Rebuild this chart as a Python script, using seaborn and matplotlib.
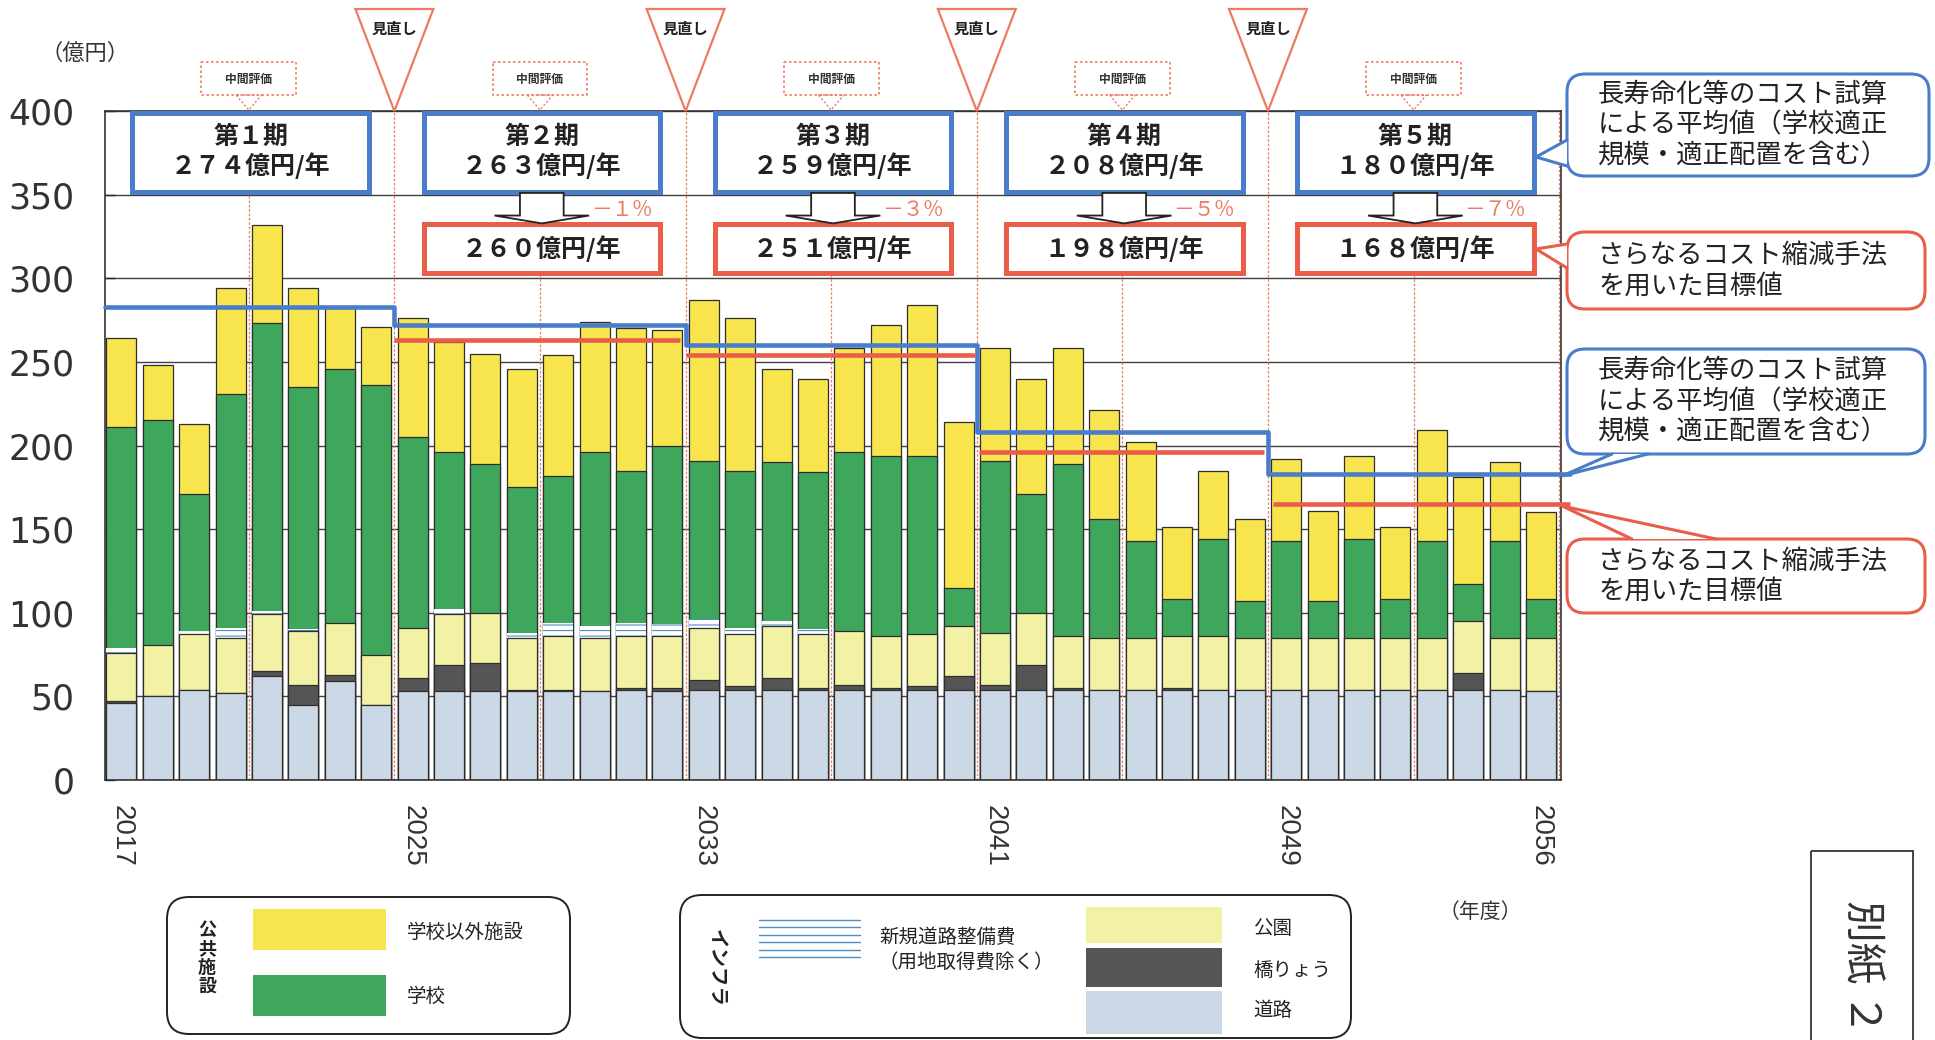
import numpy as np
import pandas as pd
import matplotlib.pyplot as plt
import seaborn as sns
from matplotlib import transforms
from matplotlib.patches import Rectangle, Polygon, FancyBboxPatch
from matplotlib.lines import Line2D

# --- Data: yearly cost by category (億円) ---
years = list(range(2017, 2057))
road = [46, 50, 54, 52, 62, 45, 59, 45, 53, 53, 53, 53, 53, 53, 54, 53, 54, 54, 54, 54,
        54, 54, 54, 54, 54, 54, 54, 54, 54, 54, 54, 54, 54, 54, 54, 54, 54, 54, 54, 53]
bridge = [1, 0, 0, 0, 3, 12, 4, 0, 8, 16, 17, 1, 1, 0, 1, 2, 6, 2, 7, 1,
          3, 1, 2, 8, 3, 15, 1, 0, 0, 1, 0, 0, 0, 0, 0, 0, 0, 10, 0, 0]
park = [29, 31, 33, 33, 34, 32, 31, 30, 30, 30, 30, 31, 32, 32, 31, 31, 31, 31, 31, 32,
        32, 31, 31, 30, 31, 31, 31, 31, 31, 31, 32, 31, 31, 31, 31, 31, 31, 31, 31, 32]
new_road = [3, 0, 2, 6, 2, 1, 0, 0, 0, 3, 0, 3, 8, 7, 8, 7, 5, 4, 3, 3,
            0, 0, 0, 0, 0, 0, 0, 0, 0, 0, 0, 0, 0, 0, 0, 0, 0, 0, 0, 0]
school = [132, 134, 82, 140, 172, 145, 152, 161, 114, 94, 89, 87, 88, 104, 91, 107, 95, 94, 95, 94,
          107, 108, 107, 23, 103, 71, 103, 71, 58, 22, 58, 22, 58, 22, 59, 23, 58, 22, 58, 23]
other = [53, 33, 42, 63, 59, 59, 36, 35, 71, 66, 66, 71, 72, 78, 85, 69, 96, 91, 56, 56,
         62, 78, 90, 99, 67, 69, 69, 65, 59, 43, 41, 49, 49, 54, 50, 43, 66, 64, 47, 52]

# period averages (blue) and reduced targets (red), as drawn
period_avg = [283, 272, 260, 208, 183]
period_target = [263, 254, 196, 165]
period_names = ['第１期', '第２期', '第３期', '第４期', '第５期']
avg_labels = ['２７４億円/年', '２６３億円/年', '２５９億円/年', '２０８億円/年', '１８０億円/年']
target_labels = ['２６０億円/年', '２５１億円/年', '１９８億円/年', '１６８億円/年']
cut_labels = ['－１%', '－３%', '－５%', '－７%']
tick_years = ['2017', '2025', '2033', '2041', '2049', '2056']
y_ticks = [0, 50, 100, 150, 200, 250, 300, 350, 400]

df = pd.DataFrame({'year': [str(y) for y in years], 'road': road, 'bridge': bridge,
                   'park': park, 'new_road': new_road, 'school': school, 'other': other})
layers = ['road', 'bridge', 'park', 'new_road', 'school', 'other']
cum = df[layers].cumsum(axis=1)
cum['year'] = df['year']

# colours
YELLOW = '#F8E44C'
GREEN = '#3FA75C'
PARK = '#F3F2A4'
BRIDGE = '#555555'
ROAD = '#CBD8E6'
STRIPE = '#4C8DCB'
BLUE = '#4A7DC9'
RED = '#E95D49'
SALMON = '#EC7B62'
EDGE = '#2E2E2E'

sns.set_theme(style='white')
plt.rcParams['font.family'] = ['Noto Sans CJK JP', 'DejaVu Sans']
plt.rcParams['axes.unicode_minus'] = False
plt.rcParams['hatch.color'] = STRIPE
plt.rcParams['hatch.linewidth'] = 0.8

W, H = 1935, 1040
fig = plt.figure(figsize=(W / 100, H / 100), dpi=100)
ax = fig.add_axes([105 / W, 1 - 780 / H, 1456 / W, 669 / H])

# --- stacked bars (drawn from the top of the stack downwards) ---
bar_kw = dict(width=0.82, saturation=1, errorbar=None, ax=ax, zorder=2)
sns.barplot(data=cum, x='year', y='other', color=YELLOW, edgecolor=EDGE, linewidth=0.9, **bar_kw)
sns.barplot(data=cum, x='year', y='school', color=GREEN, edgecolor=EDGE, linewidth=0.9, **bar_kw)
sns.barplot(data=cum, x='year', y='new_road', color='white', edgecolor=STRIPE, linewidth=0,
            hatch='---', **bar_kw)
sns.barplot(data=cum, x='year', y='park', color=PARK, edgecolor=EDGE, linewidth=0.9, **bar_kw)
sns.barplot(data=cum, x='year', y='bridge', color=BRIDGE, edgecolor=EDGE, linewidth=0.9, **bar_kw)
sns.barplot(data=cum, x='year', y='road', color=ROAD, edgecolor=EDGE, linewidth=0.9, **bar_kw)

# --- average / target step lines ---
edges = [-0.45, 7.5, 15.5, 23.5, 31.5, 39.8]
step = pd.DataFrame({'x': edges, 'y': period_avg + [period_avg[-1]]})
sns.lineplot(data=step, x='x', y='y', drawstyle='steps-post', color=BLUE, linewidth=3.3,
             estimator=None, ax=ax, zorder=6, clip_on=False)
red_spans = [(7.5, 15.35), (15.5, 23.45), (23.55, 31.4), (31.65, 39.8)]
for v, (x0, x1) in zip(period_target, red_spans):
    ax.hlines(v, x0, x1, color=RED, linewidth=3.3, zorder=6, clip_on=False)

# review / mid-term dotted guide lines
for xv in [3.5, 7.5, 11.5, 15.5, 19.5, 23.5, 27.5, 31.5, 35.5, 39.5]:
    ax.axvline(xv, color=SALMON, linewidth=0.9, linestyle=(0, (2, 1.5)), zorder=1.5)

# --- period boxes inside the plot ---
for k in range(5):
    x0 = 8 * k + 0.3
    c = 8 * k + 3.55
    ax.add_patch(Rectangle((x0, 351.5), 6.5, 47.5, facecolor='white', edgecolor=BLUE,
                           linewidth=3.6, zorder=7))
    ax.text(c, 375.5, f'{period_names[k]}\n{avg_labels[k]}', ha='center', va='center',
            fontsize=18, fontweight='bold', color='#222222', linespacing=1.12, zorder=8)
    if k == 0:
        continue
    ax.add_patch(Rectangle((x0, 303), 6.5, 29.5, facecolor='white', edgecolor=RED,
                           linewidth=3.6, zorder=7))
    ax.text(c, 317.5, target_labels[k - 1], ha='center', va='center', fontsize=18,
            fontweight='bold', color='#222222', zorder=8)
    arrow = [(c - 0.6, 351), (c + 0.6, 351), (c + 0.6, 337.5), (c + 1.3, 337.5),
             (c, 332.8), (c - 1.3, 337.5), (c - 0.6, 337.5)]
    ax.add_patch(Polygon(arrow, closed=True, facecolor='white', edgecolor='#222222',
                         linewidth=1.3, zorder=8))
    ax.text(c + 1.35, 341, cut_labels[k - 1], ha='left', va='center', fontsize=15,
            color=SALMON, zorder=8)

# --- axes styling ---
ax.set_xlim(-0.45, 39.55)
ax.set_ylim(0, 400)
ax.set_yticks(y_ticks)
ax.set_yticklabels([str(t) for t in y_ticks], family=['Liberation Sans Narrow', 'DejaVu Sans'],
                   fontsize=25, color='#333333')
ax.set_xticks([years.index(int(t)) for t in tick_years])
ax.set_xticklabels(tick_years, rotation=-90, family=['Liberation Sans', 'DejaVu Sans'],
                   fontsize=20, color='#333333', va='top')
ax.tick_params(axis='y', direction='in', length=7, width=1, pad=22, left=True)
ax.tick_params(axis='x', length=0, pad=18)
ax.set_xlabel('')
ax.set_ylabel('')
ax.yaxis.grid(True, color='#404040', linewidth=1.0)
ax.xaxis.grid(False)
ax.set_axisbelow(True)
for s in ax.spines.values():
    s.set_visible(True)
    s.set_color('#333333')
    s.set_linewidth(1.2)

# pixel transform (origin top-left of the figure)
pxT = transforms.Affine2D().scale(1 / W, -1 / H).translate(0, 1) + fig.transFigure
bt = transforms.blended_transform_factory(ax.transData, pxT)

# review triangles
for xv in [7.5, 15.5, 23.5, 31.5]:
    fig.add_artist(Polygon([(xv - 1.07, 9), (xv + 1.07, 9), (xv, 111)], closed=True, fill=False,
                           edgecolor=SALMON, linewidth=1.6, transform=bt))
    fig.text(xv, 29, '見直し', transform=bt, ha='center', va='center', fontsize=11,
             fontweight='bold', color='#222222')
# mid-term evaluation tags
for xv in [3.5, 11.5, 19.5, 27.5, 35.5]:
    fig.add_artist(Rectangle((xv - 1.3, 62), 2.6, 33, fill=False, edgecolor=SALMON,
                             linewidth=1.2, linestyle=(0, (1.5, 1.5)), transform=bt))
    fig.add_artist(Polygon([(xv - 0.35, 95), (xv + 0.35, 95), (xv, 110)], closed=True, fill=False,
                           edgecolor=SALMON, linewidth=1.0, linestyle=(0, (1.5, 1.5)), transform=bt))
    fig.text(xv, 79, '中間評価', transform=bt, ha='center', va='center', fontsize=8.5,
             fontweight='bold', color='#333333')

fig.text(85, 53, '（億円）', transform=pxT, ha='center', va='center', fontsize=16, color='#333333')
fig.text(1480, 912, '（年度）', transform=pxT, ha='center', va='center', fontsize=15, color='#333333')

# --- callout bubbles on the right ---
avg_note = '長寿命化等のコスト試算\nによる平均値（学校適正\n規模・適正配置を含む）'
tgt_note = 'さらなるコスト縮減手法\nを用いた目標値'
bubbles = [
    (1567, 74, 1929, 176, BLUE, avg_note, [(1567, 140), (1536, 157), (1567, 166)]),
    (1567, 232, 1925, 309, RED, tgt_note, [(1567, 244), (1536, 249), (1567, 268)]),
    (1567, 349, 1925, 454, BLUE, avg_note, [(1612, 454), (1562, 476), (1648, 454)]),
    (1567, 539, 1925, 613, RED, tgt_note, [(1632, 539), (1562, 506), (1716, 539)]),
]
for x0, y0, x1, y1, col, txt, wedge in bubbles:
    fig.add_artist(FancyBboxPatch((x0, y0), x1 - x0, y1 - y0,
                                  boxstyle='round,pad=0,rounding_size=18', facecolor='white',
                                  edgecolor=col, linewidth=2.2, transform=pxT))
    (ax_, ay_), (tx, ty), (bx, by) = wedge
    fig.add_artist(Polygon(wedge, closed=True, facecolor='white', edgecolor='none', transform=pxT))
    fig.add_artist(Line2D([ax_, tx, bx], [ay_, ty, by], color=col, linewidth=2.2, transform=pxT))
    fig.text(x0 + 31, (y0 + y1) / 2, txt, transform=pxT, ha='left', va='center', fontsize=19,
             color='#222222', linespacing=1.18)

# --- legends at the bottom ---
fig.add_artist(FancyBboxPatch((167, 897), 403, 137, boxstyle='round,pad=0,rounding_size=22',
                              facecolor='white', edgecolor='#222222', linewidth=1.4, transform=pxT))
fig.text(207, 958, '公\n共\n施\n設', transform=pxT, ha='center', va='center', fontsize=13,
         fontweight='bold', linespacing=1.0, color='#222222')
fig.add_artist(Rectangle((253, 909), 133, 41, facecolor=YELLOW, edgecolor='none', transform=pxT))
fig.add_artist(Rectangle((253, 975), 133, 41, facecolor=GREEN, edgecolor='none', transform=pxT))
fig.text(407, 932, '学校以外施設', transform=pxT, ha='left', va='center', fontsize=14, color='#222222')
fig.text(407, 996, '学校', transform=pxT, ha='left', va='center', fontsize=14, color='#222222')

fig.add_artist(FancyBboxPatch((680, 895), 671, 143, boxstyle='round,pad=0,rounding_size=22',
                              facecolor='white', edgecolor='#222222', linewidth=1.4, transform=pxT))
fig.text(716, 968, 'インフラ', transform=pxT, ha='center', va='center', fontsize=14,
         fontweight='bold', rotation=-90, color='#222222')
for yy in np.linspace(920, 957, 6):
    fig.add_artist(Line2D([759, 860], [yy, yy], color=STRIPE, linewidth=1.0, transform=pxT))
fig.text(879, 950, '新規道路整備費\n（用地取得費除く）', transform=pxT, ha='left', va='center',
         fontsize=14, color='#222222', linespacing=1.25)
fig.add_artist(Rectangle((1086, 907), 136, 36, facecolor=PARK, edgecolor='none', transform=pxT))
fig.add_artist(Rectangle((1086, 948), 136, 39, facecolor=BRIDGE, edgecolor='none', transform=pxT))
fig.add_artist(Rectangle((1086, 991), 136, 43, facecolor=ROAD, edgecolor='none', transform=pxT))
fig.text(1253, 928, '公園', transform=pxT, ha='left', va='center', fontsize=14, color='#222222')
fig.text(1253, 971, '橋りょう', transform=pxT, ha='left', va='center', fontsize=14, color='#222222')
fig.text(1253, 1010, '道路', transform=pxT, ha='left', va='center', fontsize=14, color='#222222')

# attachment tag
fig.add_artist(Rectangle((1811, 851), 102, 200, fill=False, edgecolor='#333333', linewidth=1.3,
                         transform=pxT))
fig.text(1862, 900, '別紙 ２', transform=pxT, ha='center', va='top', rotation=-90, fontsize=30,
         color='#333333')

fig.savefig('out.png', dpi=100)
